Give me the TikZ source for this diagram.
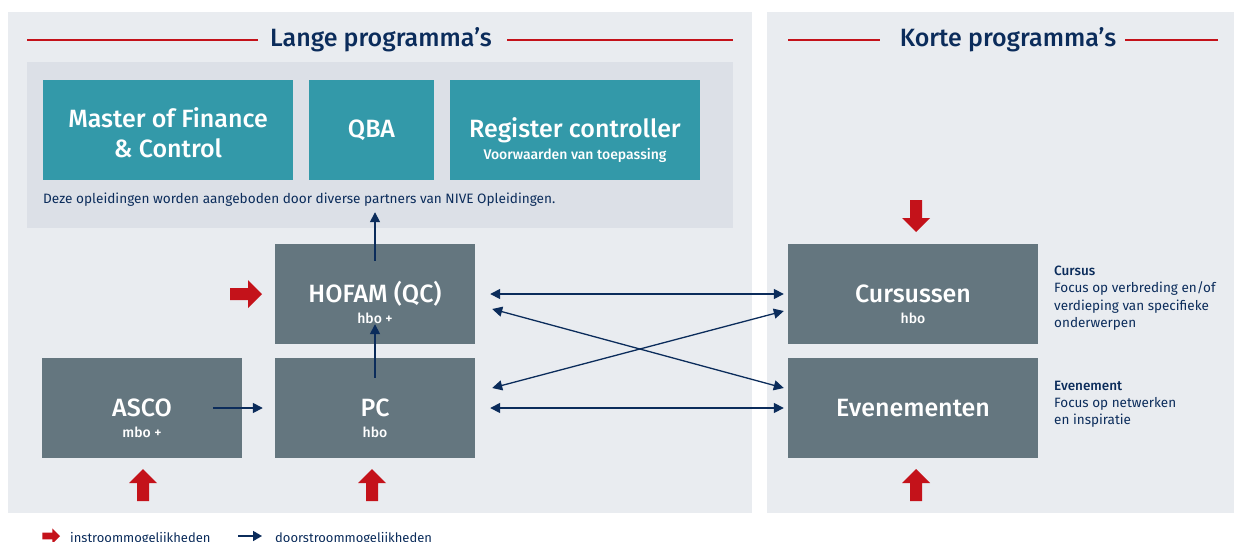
\documentclass[tikz,border=0pt]{standalone}
\usepackage{fontspec}
\setmainfont{Fira Sans}
\newfontfamily\medfont{Fira Sans Medium}
\usetikzlibrary{arrows.meta}
\definecolor{panelbg}{HTML}{E9ECF0}
\definecolor{innerbg}{HTML}{DCE0E7}
\definecolor{tealbox}{HTML}{3399A9}
\definecolor{graybox}{HTML}{64767F}
\definecolor{navy}{HTML}{0B2C5B}
\definecolor{inred}{HTML}{C4121A}
\tikzset{
  panel/.style={fill=panelbg, draw=none},
  tbox/.style={fill=tealbox, draw=none, inner sep=0pt},
  gbox/.style={fill=graybox, draw=none, inner sep=0pt},
  boxtitle/.style={text=white, font=\fontsize{25}{30}\selectfont\medfont, align=center, inner sep=0pt},
  boxsub/.style={text=white, font=\fontsize{14}{16}\selectfont\medfont, inner sep=0pt},
  sectitle/.style={text=navy, font=\fontsize{25}{30}\selectfont\medfont, inner sep=0pt},
  redline/.style={draw=inred, line width=2pt},
  flow/.style={draw=navy, line width=1.6pt, -{Triangle[length=10pt,width=10pt]}},
  bflow/.style={draw=navy, line width=1.6pt, {Triangle[length=10pt,width=10pt]}-{Triangle[length=10pt,width=10pt]}},
  desc/.style={text=navy, font=\fontsize{13.5}{17.2}\selectfont, align=left, anchor=north west, inner sep=0pt},
  inarrow/.pic={\fill[inred] (0,0) -- (14,14) -- (6,14) -- (6,32) -- (-6,32) -- (-6,14) -- (-14,14) -- cycle;}
}
\begin{document}
\begin{tikzpicture}[x=1pt,y=-1pt]
\useasboundingbox (0,0) rectangle (1234,541);
\fill[white] (0,0) rectangle (1234,541);
% panels
\path[panel] (8,12) rectangle (752,513);
\path[panel] (767,12) rectangle (1234,513);
% section titles
\node[sectitle] (lange) at (381,40) {Lange programma’s};
\draw[redline] (27,40) -- (258,40);
\draw[redline] (507,40) -- (733,40);
\node[sectitle] (korte) at (1008,40) {Korte programma’s};
\draw[redline] (788,40) -- (880,40);
\draw[redline] (1125,40) -- (1218,40);
% inner box
\node[fill=innerbg, minimum width=706pt, minimum height=166pt, inner sep=0pt] (inner) at (380,145) {};
\node[tbox, minimum width=250pt, minimum height=100pt] (mfc) at (168,130) {};
\node[boxtitle] at ([yshift=-3pt]mfc.center) {Master of Finance\\\& Control};
\node[tbox, minimum width=125pt, minimum height=100pt] (qba) at (371.5,130) {};
\node[boxtitle] at (qba) {QBA};
\node[tbox, minimum width=250pt, minimum height=100pt] (rc) at (575,130) {};
\node[boxtitle] at (rc) {Register controller};
\node[boxsub] at (575,155) {Voorwaarden van toepassing};
\node[text=navy, font=\fontsize{13.6}{16}\selectfont, anchor=west, inner sep=0pt] (caption) at (43,200) {Deze opleidingen worden aangeboden door diverse partners van NIVE Opleidingen.};
% gray boxes
\node[gbox, minimum width=200pt, minimum height=100pt] (hofam) at (375,294) {};
\node[boxtitle] at (hofam) {HOFAM (QC)};
\node[boxsub] at (375,318) {hbo +};
\node[gbox, minimum width=200pt, minimum height=100pt] (asco) at (142,408) {};
\node[boxtitle] at (asco) {ASCO};
\node[boxsub] at (142,432) {mbo +};
\node[gbox, minimum width=200pt, minimum height=100pt] (pc) at (375,408) {};
\node[boxtitle] at (pc) {PC};
\node[boxsub] at (375,432) {hbo};
\node[gbox, minimum width=250pt, minimum height=100pt] (curs) at (913,294) {};
\node[boxtitle] at (curs) {Cursussen};
\node[boxsub] at (913,318) {hbo};
\node[gbox, minimum width=250pt, minimum height=100pt] (even) at (913,408) {};
\node[boxtitle] at (even) {Evenementen};
% descriptions
\node[desc] (cursdesc) at (1054,266) {{\medfont Cursus}\\Focus op verbreding en/of\\verdieping van specifieke\\onderwerpen};
\node[desc] (evendesc) at (1054,381) {{\medfont Evenement}\\Focus op netwerken\\en inspiratie};
% flow arrows
\draw[flow] ([yshift=-17pt]hofam.north) -- ([yshift=16pt]hofam.north |- inner.south);
\draw[flow] ([yshift=-20pt]pc.north) -- ([yshift=20pt]hofam.south);
\draw[flow] ([xshift=-29pt]asco.east) -- ([xshift=-12pt]pc.west);
\draw[bflow] ([xshift=15pt]hofam.east) -- ([xshift=-4pt]curs.west);
\draw[bflow, line width=1.3pt] ([xshift=17pt,yshift=-15pt]hofam.east) -- ([xshift=-4pt,yshift=20pt]even.west);
\draw[bflow, line width=1.3pt] ([xshift=17pt,yshift=20pt]pc.east) -- ([xshift=-4pt,yshift=-17pt]curs.west);
\draw[bflow] ([xshift=15pt]pc.east) -- ([xshift=-4pt]even.west);
% entry arrows
\pic at (143,469) {inarrow};
\pic at (372,469) {inarrow};
\pic at (916,469) {inarrow};
\pic[rotate=180] at (916,232) {inarrow};
\pic[rotate=-90] at (262,294) {inarrow};
% legend
\pic[rotate=-90, scale=0.55] at (60,536) {inarrow};
\node[text=navy, font=\fontsize{13}{15}\selectfont, anchor=west, inner sep=0pt] (leg1) at (70,539) {instroommogelijkheden};
\coordinate (lga) at (238,536);
\coordinate (lgb) at (262,536);
\draw[flow, -{Triangle[length=9pt,width=10pt]}] (lga) -- (lgb);
\node[text=navy, font=\fontsize{13}{15}\selectfont, anchor=west, inner sep=0pt] (leg2) at (275,539) {doorstroommogelijkheden};
\end{tikzpicture}
\end{document}
